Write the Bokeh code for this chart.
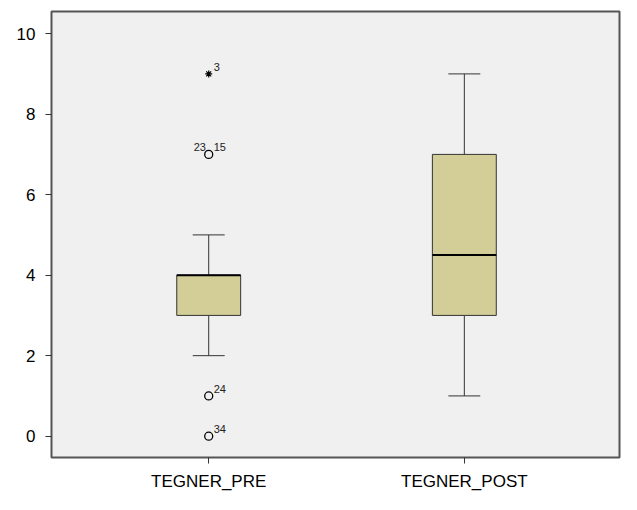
from bokeh.plotting import figure
from bokeh.models import ColumnDataSource, FixedTicker, Range1d
from bokeh.core.properties import value
from bokeh.embed import file_html
from bokeh.resources import INLINE

categories = ["TEGNER_PRE", "TEGNER_POST"]
positions = [1, 2]
q1 = [3, 3]
median = [4, 4.5]
q3 = [4, 7]
whisker_low = [2, 1]
whisker_high = [5, 9]

outlier_x = [1, 1, 1]
outlier_y = [7, 1, 0]
extreme_x = [1]
extreme_y = [9]

label_x = [1, 1, 1, 1, 1]
label_y = [7, 7, 1, 0, 9]
label_text = ["23", "15", "24", "34", "3"]
label_dx = [-15, 5, 5, 5, 5]

yticks = [0, 2, 4, 6, 8, 10]

FONT = "Liberation Sans"

p = figure(width=621, height=494, output_backend="svg", toolbar_location=None,
           x_range=Range1d(0.385, 2.607), y_range=Range1d(-0.53, 10.55),
           min_border_left=51, min_border_right=2, min_border_top=11, min_border_bottom=37)
p.background_fill_color = "#f0f0f0"
p.border_fill_color = "white"
p.outline_line_color = "#555555"
p.outline_line_width = 2
p.grid.visible = False

# whiskers
p.segment(x0=positions, y0=whisker_low, x1=positions, y1=q1, line_color="#333333", line_width=1)
p.segment(x0=positions, y0=q3, x1=positions, y1=whisker_high, line_color="#333333", line_width=1)
cap_w = 0.0625
p.segment(x0=[x - cap_w for x in positions], y0=whisker_low,
          x1=[x + cap_w for x in positions], y1=whisker_low, line_color="#333333", line_width=1)
p.segment(x0=[x - cap_w for x in positions], y0=whisker_high,
          x1=[x + cap_w for x in positions], y1=whisker_high, line_color="#333333", line_width=1)

# boxes
p.vbar(x=positions, width=0.25, bottom=q1, top=q3, fill_color="#d3ce98",
       line_color="#333333", line_width=1)
box_w = 0.125
p.segment(x0=[x - box_w for x in positions], y0=median,
          x1=[x + box_w for x in positions], y1=median, line_color="black", line_width=2)

# outliers
p.scatter(x=outlier_x, y=outlier_y, marker="circle", size=8, fill_color=None,
          line_color="black", line_width=1.3)
p.scatter(x=extreme_x, y=extreme_y, marker="asterisk", size=7, line_color="black", line_width=1.2)

src = ColumnDataSource(dict(x=label_x, y=label_y, t=label_text, dx=label_dx))
p.text(x="x", y="y", text="t", x_offset="dx", y_offset=-3, source=src,
       text_font=value(FONT), text_font_size="11px", text_color="#222222",
       text_baseline="bottom", text_align="left")

# axes
p.yaxis.ticker = FixedTicker(ticks=yticks)
p.xaxis.ticker = FixedTicker(ticks=positions)
p.xaxis.major_label_overrides = {1: categories[0], 2: categories[1]}
for ax in (p.xaxis, p.yaxis):
    ax.axis_line_color = None
    ax.major_tick_line_color = "#333333"
    ax.major_tick_out = 6
    ax.major_tick_in = 0
    ax.minor_tick_line_color = None
    ax.major_label_text_font = FONT
    ax.major_label_text_font_size = "17px"
    ax.major_label_text_color = "black"
p.yaxis.major_label_standoff = 10
p.xaxis.major_label_standoff = 8

open("out.html", "w").write(file_html(p, INLINE))
